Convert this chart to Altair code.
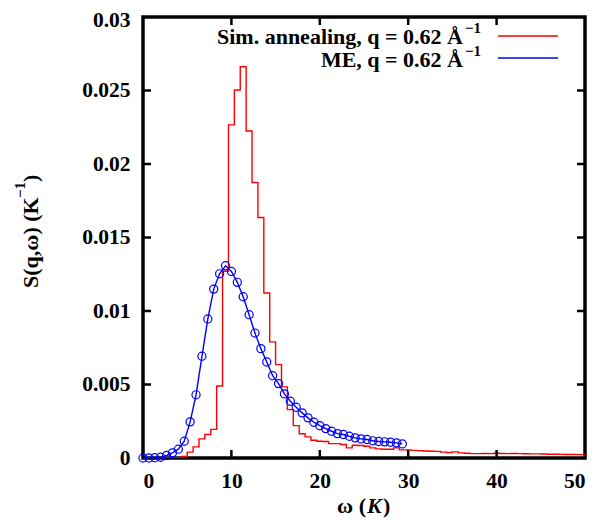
import altair as alt
import pandas as pd

# ---- data ----
omega_grid = [0, 0.667, 1.333, 2, 2.667, 3.333, 4, 4.667, 5.333, 6, 6.667, 7.333,
              8, 8.667, 9.333, 10, 10.667, 11.333, 12, 12.667, 13.333, 14, 14.667,
              15.333, 16, 16.667, 17.333, 18, 18.667, 19.333, 20, 20.667, 21.333,
              22, 22.667, 23.333, 24, 24.667, 25.333, 26, 26.667, 27.333, 28,
              28.667, 29.333, 30, 30.667, 31.333, 32, 32.667, 33.333, 34, 34.667,
              35.333, 36, 36.667, 37.333, 38, 38.667, 39.333, 40, 40.667, 41.333,
              42, 42.667, 43.333, 44, 44.667, 45.333, 46, 46.667, 47.333, 48,
              48.667, 49.333, 50]

sa_values = [0, 0, 0, 0, 0, 0, 0, 0.0001, 0.0004, 0.00076, 0.0013, 0.0016,
             0.00195, 0.0049, 0.0127, 0.02266, 0.02503, 0.02662, 0.02225, 0.01874,
             0.01636, 0.01122, 0.0079, 0.00635, 0.00484, 0.00329, 0.0022, 0.00165,
             0.00144, 0.00121, 0.00114, 0.00112, 0.00098, 0.00098, 0.00092, 0.00069,
             0.00087, 0.00085, 0.0008, 0.00069, 0.00062, 0.0006, 0.0006, 0.00069,
             0.00055, 0.00055, 0.00052, 0.0005, 0.00048, 0.00046, 0.00045, 0.0004,
             0.00037, 0.00042, 0.00035, 0.00032, 0.0003, 0.0003, 0.00031, 0.0003,
             0.00032, 0.00031, 0.0003, 0.00031, 0.0003, 0.00029, 0.00028, 0.00028,
             0.00027, 0.00026, 0.00026, 0.00025, 0.00024, 0.00024, 0.00023, 0.00023]

me_omega = omega_grid[:45]
me_values = [0, 0, 0.00002, 0.00005, 0.00017, 0.00035, 0.0006, 0.00114, 0.00246,
             0.0043, 0.00692, 0.00946, 0.01149, 0.01253, 0.01308, 0.01269, 0.01195,
             0.01097, 0.00975, 0.0085, 0.00744, 0.00653, 0.0056, 0.00506, 0.00436,
             0.00386, 0.00345, 0.00307, 0.00273, 0.00243, 0.0022, 0.002, 0.00182,
             0.00166, 0.0016, 0.00148, 0.00137, 0.0013, 0.00126, 0.00117, 0.00112,
             0.0011, 0.00107, 0.00103, 0.00096]

x_ticks = [0, 10, 20, 30, 40, 50]
y_ticks = [0, 0.005, 0.01, 0.015, 0.02, 0.025, 0.03]
x_inner_ticks = [10, 20, 30, 40]
y_inner_ticks = [0.005, 0.01, 0.015, 0.02, 0.025]

legend_labels = ["Sim. annealing, q = 0.62 Å", "ME, q = 0.62 Å"]
legend_sup = "−1"
colors = ["#ff0000", "#0000ff"]

FONT = "Liberation Serif"
W, H = 442, 441

df_sa = pd.DataFrame({"omega": omega_grid, "S": sa_values})
df_me = pd.DataFrame({"omega": me_omega, "S": me_values})
df_xt = pd.DataFrame({"omega": x_inner_ticks})
df_yt = pd.DataFrame({"S": y_inner_ticks})

xscale = alt.Scale(domain=[0, 50], nice=False, zero=False)
yscale = alt.Scale(domain=[0, 0.03], nice=False)

xaxis = alt.Axis(values=x_ticks, format="d", title=None, ticks=False, domain=False,
                 grid=False, labelFont=FONT, labelFontSize=21.5, labelFontWeight="bold",
                 labelColor="black", labelPadding=12)
yaxis = alt.Axis(values=y_ticks, format="~g", title=None, ticks=False,
                 domain=False, grid=False, labelFont=FONT, labelFontSize=21.5,
                 labelFontWeight="bold", labelColor="black", labelPadding=13,
                 labelOffset={"condition": {"test": "datum.value >= 0.03", "value": 3},
                              "value": 0})

X = alt.X("omega:Q", scale=xscale, axis=xaxis)
Y = alt.Y("S:Q", scale=yscale, axis=yaxis)

red = alt.Chart(df_sa).mark_line(interpolate="step", color=colors[0], strokeWidth=1.4,
                                 clip=True).encode(x=X, y=Y)

blue_line = alt.Chart(df_me).mark_line(color=colors[1], strokeWidth=1.4,
                                       clip=True).encode(x=X, y=Y)
blue_pts = alt.Chart(df_me).mark_point(shape="circle", filled=False, size=66,
                                       color=colors[1], strokeWidth=1.2,
                                       opacity=1).encode(x=X, y=Y)

tick_style = dict(color="black", strokeWidth=2.5)
ytick_left = alt.Chart(df_yt).mark_rule(**tick_style).encode(
    y=Y, x=alt.value(0), x2=alt.value(8))
ytick_right = alt.Chart(df_yt).mark_rule(**tick_style).encode(
    y=Y, x=alt.value(W - 8), x2=alt.value(W))
xtick_bottom = alt.Chart(df_xt).mark_rule(**tick_style).encode(
    x=X, y=alt.value(H), y2=alt.value(H - 8))
xtick_top = alt.Chart(df_xt).mark_rule(**tick_style).encode(
    x=X, y=alt.value(0), y2=alt.value(8))

txt = dict(font=FONT, fontWeight="bold", color="black")


def text_layer(s, x, y, size=22, align="left", angle=0, style="normal"):
    return alt.Chart(pd.DataFrame({"t": [s]})).mark_text(
        align=align, baseline="alphabetic", fontSize=size, angle=angle,
        fontStyle=style, **txt).encode(text="t:N", x=alt.value(x), y=alt.value(y))


layers = []
# legend (text on the left, line sample on the right, as in gnuplot)
for i, (lab, col) in enumerate(zip(legend_labels, colors)):
    layers.append(text_layer(lab, 320, 27 + 22.5 * i, align="right"))
    layers.append(text_layer(legend_sup, 322, 16 + 22.5 * i, size=15))
    layers.append(alt.Chart(pd.DataFrame({"t": [lab]})).mark_rule(
        color=col, strokeWidth=1.4).encode(
        x=alt.value(355), x2=alt.value(415), y=alt.value(19 + 22 * i)))

# x-axis title: ω (K) with italic K
layers.append(text_layer("ω (", 223, 496, align="right"))
layers.append(text_layer("K", 224, 496, style="italic"))
layers.append(text_layer(")", 240, 496))

# y-axis title: S(q,ω) (K^-1), rotated
layers.append(text_layer("S(q,ω) (K", -105, 271, angle=270))
layers.append(text_layer("−1", -118, 181, size=15, angle=270))
layers.append(text_layer(")", -105, 165, angle=270))

chart = alt.layer(red, blue_line, blue_pts, ytick_left, ytick_right, xtick_bottom,
                  xtick_top, *layers).properties(
    width=W, height=H,
    padding={"left": 135, "top": 9, "right": 15, "bottom": 60},
    autosize=alt.AutoSizeParams(type="none"),
    background="white",
).configure_view(stroke="black", strokeWidth=3.5)

chart.save("out.html", embed_options={"renderer": "svg", "actions": False})
